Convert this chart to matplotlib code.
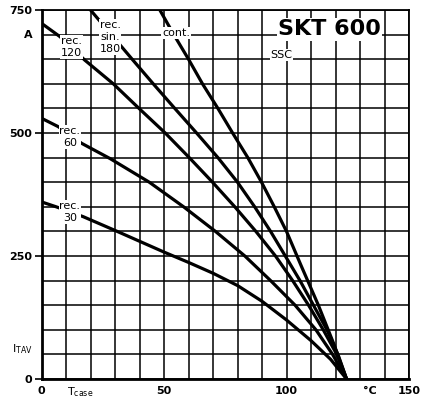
import matplotlib
matplotlib.use("Agg")
import matplotlib.pyplot as plt

# case temperature (degC) vs. max average on-state current I_TAV (A)
t_cont = [48.3, 54, 60, 65.7, 72, 78, 84.2, 89.8, 95, 100, 106, 113, 119, 124.5]
i_cont = [750, 700, 650, 600, 550, 500, 450, 400, 350, 300, 230, 150, 75, 0]

t_sin180 = [20, 28.5, 37, 45.6, 54.4, 63.3, 72, 80, 87, 93.5, 99.5, 105.5, 111, 116.5, 121, 124.5]
i_sin180 = [750, 700, 650, 600, 550, 500, 450, 400, 350, 300, 250, 200, 150, 100, 50, 0]

t_rec120 = [0, 7.5, 17.7, 29.3, 39.8, 50.5, 60.3, 69.8, 78.9, 87.5, 95.5, 102.5, 109, 115, 120.5, 124.5]
i_rec120 = [723, 696, 648, 600, 550, 500, 450, 400, 350, 300, 250, 200, 150, 100, 50, 0]

t_rec60 = [0, 6.8, 16.4, 28, 44, 58, 71, 83, 93.5, 103.5, 112, 118.8, 124.5]
i_rec60 = [530, 513, 479, 448, 400, 350, 300, 250, 200, 150, 100, 50, 0]

t_rec30 = [0, 6, 17, 30, 40, 50, 60, 70, 80, 90, 100, 110, 118, 124.5]
i_rec30 = [360, 350, 330, 302, 280, 258, 237, 215, 190, 158, 120, 78, 40, 0]

x_ticks = [0, 50, 100, 150]
y_ticks = [0, 250, 500, 750]

# curve labels: text, x, y
curve_labels = [
    ("rec.\n120", 12.3, 675),
    ("rec.\nsin.\n180", 28, 695),
    ("cont.", 55, 703),
    ("rec.\n60", 11.6, 492),
    ("rec.\n30", 11.6, 339),
]

fig = plt.figure(figsize=(4.27, 3.99), dpi=100)
ax = fig.add_axes([0.0972, 0.0501, 0.8607, 0.9248])

for t, i in [(t_cont, i_cont), (t_sin180, i_sin180), (t_rec120, i_rec120),
             (t_rec60, i_rec60), (t_rec30, i_rec30)]:
    ax.plot(t, i, color="black", lw=2.3, solid_joinstyle="round", zorder=3)

ax.set_xlim(0, 150)
ax.set_ylim(0, 750)

ax.set_xticks(x_ticks)
ax.set_xticks(range(0, 151, 10), minor=True)
ax.set_yticks(y_ticks)
ax.set_yticks(range(0, 751, 50), minor=True)
ax.grid(which="both", color="black", lw=1.1, zorder=1)
ax.set_axisbelow(True)

ax.tick_params(axis="x", which="both", length=0, pad=5)
ax.tick_params(axis="y", which="major", length=5, width=1.2, pad=1.5)
ax.tick_params(axis="y", which="minor", length=0)
for lbl in ax.get_xticklabels() + ax.get_yticklabels():
    lbl.set_fontsize(8)
    lbl.set_fontweight("bold")

for s in ax.spines.values():
    s.set_linewidth(1.3)
ax.spines["left"].set_linewidth(2)
ax.spines["bottom"].set_linewidth(2)

box = dict(facecolor="white", edgecolor="none", pad=0.6)
for txt, x, y in curve_labels:
    ax.text(x, y, txt, fontsize=8, ha="center", va="center", linespacing=1.25,
            bbox=box, zorder=4)

ax.text(117.5, 711, "SKT 600", fontsize=16, fontweight="heavy", ha="center",
        va="center", bbox=dict(facecolor="white", edgecolor="none", pad=1), zorder=4)
ax.text(98, 659, "SSC", fontsize=8, ha="center", va="center", bbox=box, zorder=4)

# axis annotations outside the frame
yt = ax.get_yaxis_transform()
xt = ax.get_xaxis_transform()
ax.text(-0.023, 700, "A", transform=yt, fontsize=8, fontweight="bold",
        ha="right", va="center", clip_on=False)
ax.text(-0.023, 60, r"$\mathrm{I_{TAV}}$", transform=yt, fontsize=8,
        ha="right", va="center", clip_on=False)
ax.text(15.7, -0.017, r"$\mathrm{T_{case}}$", transform=xt, fontsize=8,
        ha="center", va="top", clip_on=False)
ax.text(134, -0.02, "°C", transform=xt, fontsize=8, fontweight="bold",
        ha="center", va="top", clip_on=False)

fig.savefig("out.png", dpi=100)
